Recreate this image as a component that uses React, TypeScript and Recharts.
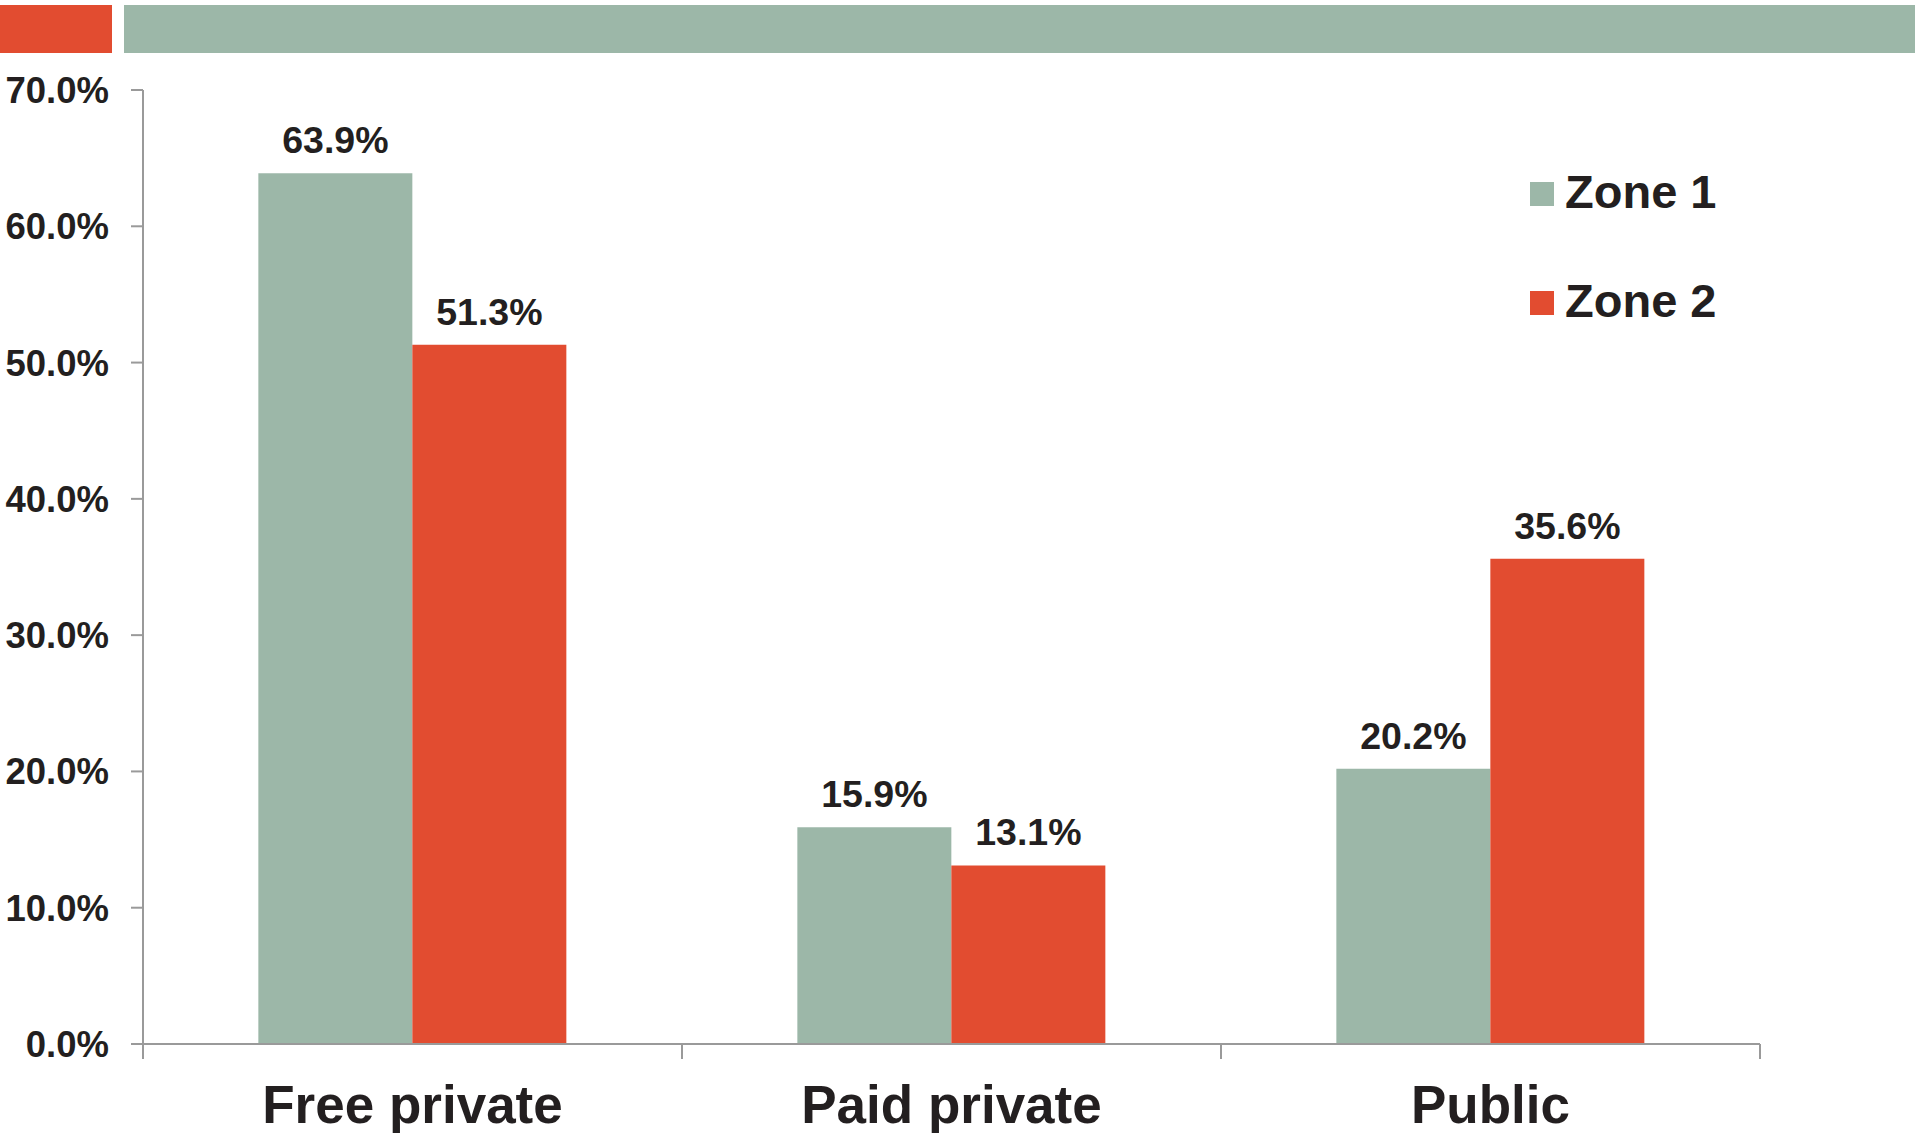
import React from 'react';
import { BarChart, Bar, XAxis, YAxis, LabelList } from 'recharts';

const categories = ['Free private', 'Paid private', 'Public'];
const zone1 = [63.9, 15.9, 20.2];
const zone2 = [51.3, 13.1, 35.6];
const yTicks = [0, 10, 20, 30, 40, 50, 60, 70];
const seriesNames = ['Zone 1', 'Zone 2'];

const GREEN = '#9CB7A8';
const RED = '#E24C30';
const TEXT = '#231F20';
const AXIS = '#9a9a9a';
const FONT = '"Liberation Sans", Arial, Helvetica, sans-serif';

const data = categories.map((c, i) => ({ name: c, z1: zone1[i], z2: zone2[i] }));
const seriesColors = [GREEN, RED];

const fmt = (v: any) => Number(v).toFixed(1) + '%';

const XTick = (props: any) => {
  const { x, y, payload, index } = props;
  const half = payload && typeof payload.offset === 'number' ? payload.offset : 0;
  return (
    <g>
      {index === 0 && half ? (
        <line x1={x - half} x2={x - half} y1={y} y2={y + 15} stroke={AXIS} strokeWidth={2} />
      ) : null}
      {half ? <line x1={x + half} x2={x + half} y1={y} y2={y + 15} stroke={AXIS} strokeWidth={2} /> : null}
      <text x={x} y={y + 79} textAnchor="middle" fontSize={53} fontWeight="bold" fill={TEXT} fontFamily={FONT}>
        {payload.value}
      </text>
    </g>
  );
};

export default function App() {
  return (
    <div style={{ position: 'relative', width: 1915, height: 1133, overflow: 'hidden', background: '#fff', fontFamily: FONT }}>
      <style>{`body{margin:0}`}</style>
      <div style={{ position: 'absolute', left: 0, top: 5, width: 112, height: 48, background: RED }} />
      <div style={{ position: 'absolute', left: 124, top: 5, width: 1791, height: 48, background: GREEN }} />
      <div style={{ position: 'absolute', left: 0, top: 0 }}>
        <BarChart
          width={1915}
          height={1133}
          data={data}
          margin={{ top: 90, right: 155, bottom: 0, left: 0 }}
          barCategoryGap="21.4%"
          barGap={0}
        >
          <XAxis
            dataKey="name"
            height={89}
            axisLine={{ stroke: AXIS, strokeWidth: 2 }}
            tickLine={false}
            tickSize={0}
            tickMargin={0}
            tick={<XTick />}
            interval={0}
          />
          <YAxis
            width={143}
            domain={[0, 70]}
            ticks={yTicks}
            tickFormatter={fmt}
            tickSize={12}
            tickMargin={22}
            axisLine={{ stroke: AXIS, strokeWidth: 2 }}
            tickLine={{ stroke: AXIS, strokeWidth: 2 }}
            tick={{ fill: TEXT, fontSize: 36.5, fontWeight: 'bold', fontFamily: FONT }}
            interval={0}
          />
          <Bar dataKey="z1" name={seriesNames[0]} fill={GREEN} isAnimationActive={false}>
            <LabelList dataKey="z1" position="top" offset={20} formatter={fmt} fill={TEXT} fontSize={37.5} fontWeight="bold" fontFamily={FONT} />
          </Bar>
          <Bar dataKey="z2" name={seriesNames[1]} fill={RED} isAnimationActive={false}>
            <LabelList dataKey="z2" position="top" offset={20} formatter={fmt} fill={TEXT} fontSize={37.5} fontWeight="bold" fontFamily={FONT} />
          </Bar>
        </BarChart>
      </div>
      <div style={{ position: 'absolute', left: 1530, top: 168 }}>
        {seriesNames.map((n, i) => (
          <div key={n} style={{ display: 'flex', alignItems: 'center', height: 47, marginBottom: 62 }}>
            <div style={{ width: 24, height: 24, background: seriesColors[i], marginRight: 11, marginTop: 4 }} />
            <span style={{ fontSize: 47, lineHeight: '47px', fontWeight: 'bold', color: TEXT }}>{n}</span>
          </div>
        ))}
      </div>
    </div>
  );
}
